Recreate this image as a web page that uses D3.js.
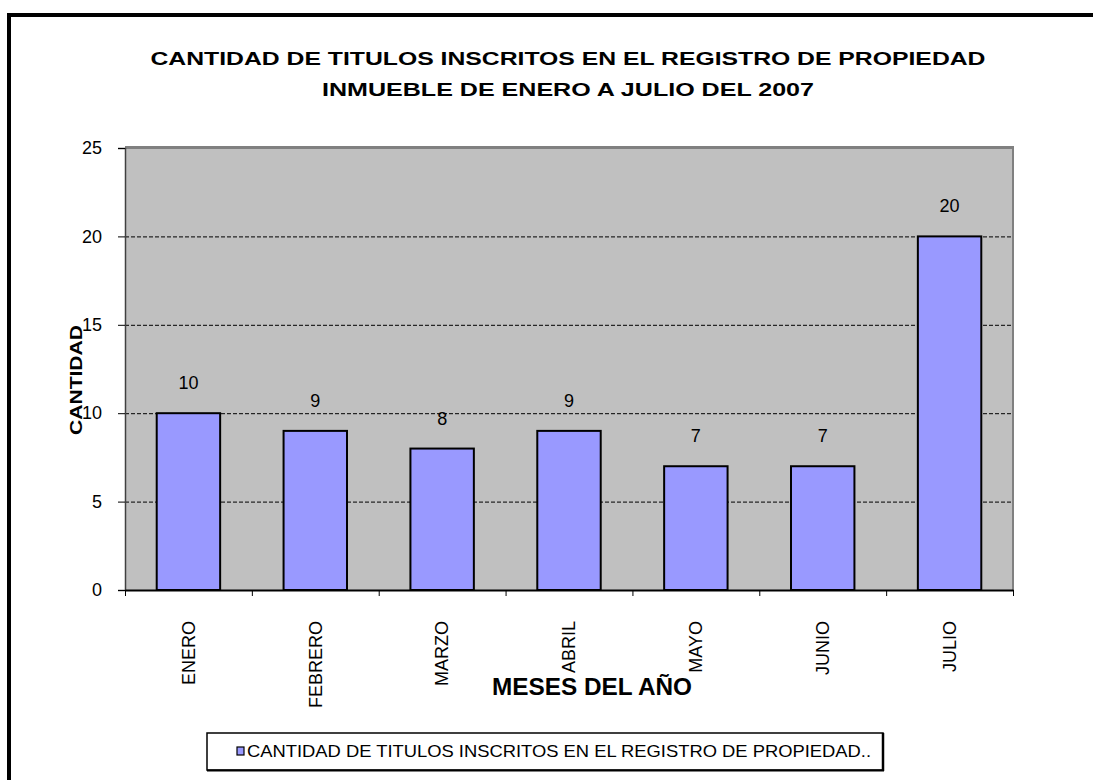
<!DOCTYPE html>
<html><head><meta charset="utf-8">
<script src="https://cdn.jsdelivr.net/npm/d3@7"></script>
<style>body{margin:0;background:#fff}svg{display:block}text{font-family:Arial,"Liberation Sans",sans-serif}</style>
</head><body>
<script>
const categories = ["ENERO","FEBRERO","MARZO","ABRIL","MAYO","JUNIO","JULIO"];
const values = [10,9,8,9,7,7,20];
const yTicks = [0,5,10,15,20,25];
const titleLines = ["CANTIDAD DE TITULOS INSCRITOS EN EL REGISTRO DE PROPIEDAD","INMUEBLE DE ENERO A JULIO DEL 2007"];
const yTitle = "CANTIDAD";
const xTitle = "MESES DEL AÑO";
const legendLabel = "CANTIDAD DE TITULOS INSCRITOS EN EL REGISTRO DE PROPIEDAD..";

const W = 1093, H = 780;
const svg = d3.select("body").append("svg").attr("width", W).attr("height", H);

// outer border
svg.append("rect").attr("x", 9).attr("y", 15).attr("width", 1200).attr("height", 900)
  .attr("fill", "none").attr("stroke", "#000").attr("stroke-width", 4);

const P = {l: 125, r: 1013, t: 148, b: 590};
const x = d3.scaleBand().domain(categories).range([P.l, P.r]).paddingInner(0.5).paddingOuter(0.25);
const xb = d3.scaleBand().domain(categories).range([P.l, P.r]);
const y = d3.scaleLinear().domain([0, 25]).range([P.b, P.t]);

// plot bg
svg.append("rect").attr("x", P.l).attr("y", P.t).attr("width", P.r - P.l).attr("height", P.b - P.t).attr("fill", "#C0C0C0");
// gridlines
svg.append("g").selectAll("line").data(yTicks.filter(d => d > 0 && d < 25)).join("line")
  .attr("x1", P.l).attr("x2", P.r).attr("y1", d => y(d) + 0.5).attr("y2", d => y(d) + 0.5)
  .attr("stroke", "#000").attr("stroke-width", 1).attr("stroke-dasharray", "4,2");
// frame top/right gray
svg.append("line").attr("x1", P.l).attr("x2", P.r + 1).attr("y1", P.t - 0.5).attr("y2", P.t - 0.5).attr("stroke", "#808080").attr("stroke-width", 3);
svg.append("line").attr("x1", P.r).attr("x2", P.r).attr("y1", P.t - 2).attr("y2", P.b).attr("stroke", "#808080").attr("stroke-width", 2);

// bars
svg.append("g").selectAll("rect").data(values).join("rect")
  .attr("x", (d, i) => x(categories[i])).attr("y", d => y(d))
  .attr("width", x.bandwidth()).attr("height", d => y(0) - y(d))
  .attr("fill", "#9999FF").attr("stroke", "#000").attr("stroke-width", 2);

// value labels
svg.append("g").selectAll("text").data(values).join("text")
  .attr("x", (d, i) => x(categories[i]) + x.bandwidth() / 2).attr("y", d => y(d) - 24)
  .attr("text-anchor", "middle").attr("font-size", 18).attr("fill", "#000").text(d => d);

// y axis
const yAxis = svg.append("g").attr("transform", `translate(${P.l},0)`)
  .call(d3.axisLeft(y).tickValues(yTicks).tickSize(7).tickPadding(16).tickFormat(d3.format("d")));
yAxis.select(".domain").attr("stroke", "#404040").attr("stroke-width", 1.5);
yAxis.selectAll("text").attr("font-size", 18).attr("fill", "#000").attr("font-family", "Arial, 'Liberation Sans', sans-serif");
yAxis.selectAll(".tick line").attr("stroke", "#000");

// x axis
const xAxis = svg.append("g").attr("transform", `translate(0,${P.b})`)
  .call(d3.axisBottom(xb).tickSize(0).tickSizeOuter(0));
xAxis.select(".domain").attr("stroke", "#000").attr("stroke-width", 2);
xAxis.selectAll(".tick text").attr("font-size", 18).attr("fill", "#000")
  .attr("font-family", "Arial, 'Liberation Sans', sans-serif")
  .attr("transform", "rotate(-90)").attr("text-anchor", "end")
  .attr("x", -31).attr("y", 0).attr("dy", "0.35em");
// category boundary ticks
svg.append("g").selectAll("line").data(d3.range(categories.length + 1)).join("line")
  .attr("x1", i => P.l + i * xb.step() + 0.5).attr("x2", i => P.l + i * xb.step() + 0.5)
  .attr("y1", P.b).attr("y2", P.b + 6).attr("stroke", "#000").attr("stroke-width", 1);

// titles
const titleLen = [835, 492];
svg.append("g").selectAll("text").data(titleLines).join("text")
  .attr("x", 568).attr("y", (d, i) => 65 + i * 31).attr("text-anchor", "middle")
  .attr("font-size", 19).attr("font-weight", "bold").attr("fill", "#000")
  .attr("textLength", (d, i) => titleLen[i]).attr("lengthAdjust", "spacingAndGlyphs").text(d => d);

svg.append("text").attr("transform", `translate(82,380) rotate(-90)`).attr("text-anchor", "middle")
  .attr("font-size", 17).attr("font-weight", "bold")
  .attr("textLength", 110).attr("lengthAdjust", "spacingAndGlyphs").text(yTitle);

svg.append("text").attr("x", 592).attr("y", 695).attr("text-anchor", "middle")
  .attr("font-size", 24).attr("font-weight", "bold")
  .attr("textLength", 200).attr("lengthAdjust", "spacingAndGlyphs").text(xTitle);

// legend
const lg = svg.append("g");
lg.append("rect").attr("x", 207).attr("y", 733).attr("width", 676).attr("height", 37)
  .attr("fill", "#fff").attr("stroke", "#000").attr("stroke-width", 1.5);
lg.append("line").attr("x1", 883).attr("x2", 883).attr("y1", 733).attr("y2", 771).attr("stroke", "#000").attr("stroke-width", 2.5);
lg.append("line").attr("x1", 207).attr("x2", 884).attr("y1", 770.5).attr("y2", 770.5).attr("stroke", "#000").attr("stroke-width", 2);
lg.append("rect").attr("x", 237).attr("y", 747).attr("width", 7).attr("height", 8)
  .attr("fill", "#9999FF").attr("stroke", "#000").attr("stroke-width", 1.2);
lg.append("text").attr("x", 247).attr("y", 757).attr("font-size", 17)
  .attr("textLength", 624).attr("lengthAdjust", "spacingAndGlyphs").text(legendLabel);
</script>
</body></html>
